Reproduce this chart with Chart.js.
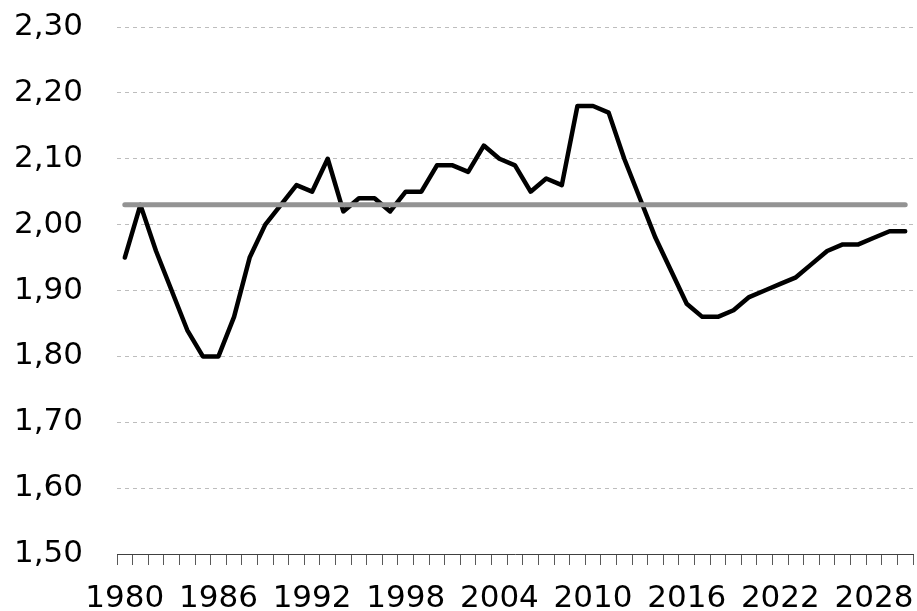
<!DOCTYPE html>
<html>
<head>
<meta charset="utf-8">
<script src="https://cdn.jsdelivr.net/npm/chart.js@4/dist/chart.umd.min.js"></script>
<style>
  html, body { margin: 0; padding: 0; background: #fff; }
  #wrap { width: 917px; height: 611px; }
</style>
</head>
<body>
<div id="wrap"><canvas id="myChart"></canvas></div>
<script>
// years on the category axis
const years = [
  1980, 1981, 1982, 1983, 1984, 1985, 1986, 1987, 1988, 1989,
  1990, 1991, 1992, 1993, 1994, 1995, 1996, 1997, 1998, 1999,
  2000, 2001, 2002, 2003, 2004, 2005, 2006, 2007, 2008, 2009,
  2010, 2011, 2012, 2013, 2014, 2015, 2016, 2017, 2018, 2019,
  2020, 2021, 2022, 2023, 2024, 2025, 2026, 2027, 2028, 2029, 2030
];

// black line values
const values = [
  1.95, 2.03, 1.96, 1.90, 1.84, 1.80, 1.80, 1.86, 1.95, 2.00,
  2.03, 2.06, 2.05, 2.10, 2.02, 2.04, 2.04, 2.02, 2.05, 2.05,
  2.09, 2.09, 2.08, 2.12, 2.10, 2.09, 2.05, 2.07, 2.06, 2.18,
  2.18, 2.17, 2.10, 2.04, 1.98, 1.93, 1.88, 1.86, 1.86, 1.87,
  1.89, 1.90, 1.91, 1.92, 1.94, 1.96, 1.97, 1.97, 1.98, 1.99, 1.99
];

// grey reference line
const average = [
  2.03, 2.03, 2.03, 2.03, 2.03, 2.03, 2.03, 2.03, 2.03, 2.03,
  2.03, 2.03, 2.03, 2.03, 2.03, 2.03, 2.03, 2.03, 2.03, 2.03,
  2.03, 2.03, 2.03, 2.03, 2.03, 2.03, 2.03, 2.03, 2.03, 2.03,
  2.03, 2.03, 2.03, 2.03, 2.03, 2.03, 2.03, 2.03, 2.03, 2.03,
  2.03, 2.03, 2.03, 2.03, 2.03, 2.03, 2.03, 2.03, 2.03, 2.03, 2.03
];

// which years get a label on the x axis
const xTickLabels = [1980, 1986, 1992, 1998, 2004, 2010, 2016, 2022, 2028];

const fontFamily = "'DejaVu Sans', Verdana, sans-serif";

new Chart(document.getElementById("myChart"), {
  type: "line",
  data: {
    labels: years,
    datasets: [
      {
        data: average,
        borderColor: "#939393",
        borderWidth: 5,
        borderCapStyle: "round",
        pointRadius: 0,
        tension: 0,
        fill: false,
      },
      {
        data: values,
        borderColor: "#000000",
        borderWidth: 4.5,
        borderJoinStyle: "round",
        borderCapStyle: "round",
        pointRadius: 0,
        tension: 0,
        fill: false,
      },
    ],
  },
  options: {
    responsive: true,
    maintainAspectRatio: false,
    animation: false,
    layout: {
      padding: { top: 27, right: 4, left: 0, bottom: 0 },
    },
    plugins: {
      legend: { display: false },
      tooltip: { enabled: false },
    },
    scales: {
      x: {
        type: "category",
        offset: true,
        grid: {
          offset: true,
          drawOnChartArea: false,
          drawTicks: true,
          tickLength: 11,
          tickColor: "#595959",
          tickWidth: 1,
        },
        border: { display: true, color: "#404040", width: 1 },
        ticks: {
          autoSkip: false,
          maxRotation: 0,
          padding: 0,
          color: "#000",
          // tall line height pushes the labels down without adding side padding
          font: { family: fontFamily, size: 31, lineHeight: 2.2 },
          callback: function (val, index) {
            const y = years[index];
            return xTickLabels.includes(y) ? String(y) : "";
          },
        },
        afterFit: (s) => { s.height = 57; },
      },
      y: {
        min: 1.5,
        max: 2.3,
        grid: {
          color: "#bdbdbd",
          lineWidth: 1,
          drawTicks: true,
          tickLength: 34,
          tickColor: "rgba(0,0,0,0)",
        },
        border: { display: false, dash: [4, 4] },
        ticks: {
          stepSize: 0.1,
          padding: 0,
          color: "#000",
          font: { family: fontFamily, size: 31 },
          callback: (v) => v.toFixed(2).replace(".", ","),
        },
        afterFit: (s) => { s.width = 117; },
      },
    },
  },
});
</script>
</body>
</html>
